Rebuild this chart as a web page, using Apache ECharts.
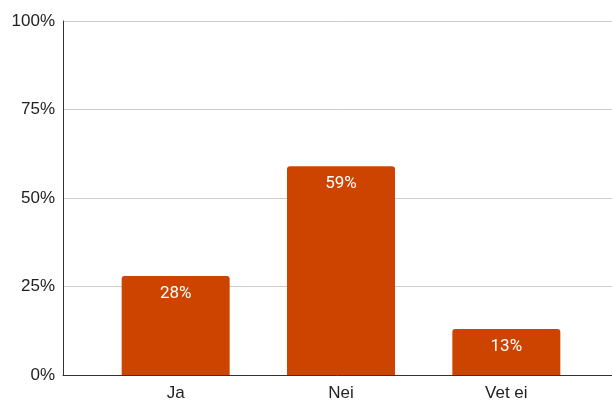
<!DOCTYPE html>
<html>
<head>
<meta charset="utf-8">
<script src="https://cdn.jsdelivr.net/npm/echarts@6/dist/echarts.min.js"></script>
<style>
  html, body { margin: 0; padding: 0; background: #fff; }
  #chart { width: 612px; height: 400px; }
</style>
</head>
<body>
<div id="chart"></div>
<script>
const categories = ['Ja', 'Nei', 'Vet ei'];
const shares = [28, 59, 13];
const yTicks = [0, 25, 50, 75, 100];

const axisFont = '"Liberation Sans", Arial, sans-serif';
const labelFont = 'Roboto, Arial, sans-serif';
const myChart = echarts.init(document.getElementById('chart'));

myChart.setOption({
  animation: false,
  grid: [
    // frame: y axis + gridlines across the full width
    { left: 63, right: 0, top: 21, bottom: 25, outerBoundsMode: 'none' },
    // bars: categories sit a bit to the right
    { left: 93, width: 496, top: 21, bottom: 25, outerBoundsMode: 'none' },
  ],
  xAxis: [
    {
      gridIndex: 0,
      type: 'value',
      min: 0,
      max: 1,
      axisLine: { show: true, onZero: false, lineStyle: { color: '#333', width: 1 } },
      axisTick: { show: false },
      axisLabel: { show: false },
      splitLine: { show: false },
    },
    {
      gridIndex: 1,
      type: 'category',
      data: categories,
      axisLine: { show: false },
      axisTick: { show: false },
      axisLabel: { color: '#222', fontSize: 17, fontFamily: axisFont, margin: 10 },
    },
  ],
  yAxis: [
    {
      gridIndex: 0,
      type: 'value',
      min: 0,
      max: 100,
      interval: 25,
      axisLine: { show: true, lineStyle: { color: '#333', width: 1 } },
      axisTick: { show: false },
      axisLabel: {
        color: '#222',
        fontSize: 17,
        fontFamily: axisFont,
        margin: 8,
        formatter: (v) => (yTicks.includes(v) ? `${v}%` : ''),
      },
      splitLine: { show: true, lineStyle: { color: '#ccc', width: 1 } },
    },
    {
      gridIndex: 1,
      type: 'value',
      min: 0,
      max: 100,
      show: false,
    },
  ],
  series: [
    {
      name: '',
      type: 'bar',
      xAxisIndex: 1,
      yAxisIndex: 1,
      data: shares,
      barWidth: 108,
      itemStyle: { color: '#cc4400', borderRadius: [3, 3, 0, 0] },
      label: {
        show: true,
        position: 'insideTop',
        distance: 9,
        color: '#fff',
        fontSize: 17,
        fontWeight: 'normal',
        fontFamily: labelFont,
        formatter: (p) => `${p.value}%`,
      },
    },
  ],
});
</script>
</body>
</html>
